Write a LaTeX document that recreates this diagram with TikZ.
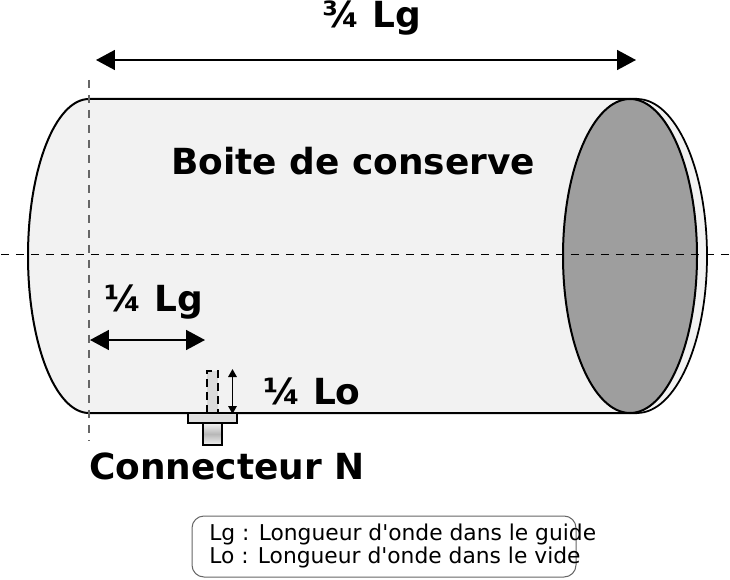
\documentclass[tikz,border=0pt]{standalone}
\usepackage{fontspec}
\setmainfont{DejaVu Sans}
\usetikzlibrary{arrows.meta,shadings}
\definecolor{boite}{HTML}{F2F2F2}
\definecolor{fond}{HTML}{9E9E9E}
\tikzset{
	cote/.style={{Triangle[length=.38cm,width=.4cm]}-{Triangle[length=.38cm,width=.4cm]},line width=.035cm},
	titre/.style={inner sep=0pt,font=\bfseries\fontsize{20.45pt}{24pt}\selectfont},
	axe/.style={dash pattern=on .16cm off .14cm,line width=.02cm}
}
\begin{document}
\begin{tikzpicture}[x=.02cm,y=.02cm]
	\useasboundingbox (0,0) rectangle (730,579);
	% boite
	\draw[fill=boite,line width=.035cm] (637,323) ellipse (70 and 157);
	\fill[boite] (89,166) arc[start angle=270,end angle=90,x radius=61,y radius=157] -- (637,480) -- (637,166) -- cycle;
	\draw[line width=.04cm] (637,166) -- (89,166) arc[start angle=270,end angle=90,x radius=61,y radius=157] -- (637,480);
	\draw[fill=fond,line width=.04cm] (630,323) ellipse (67 and 157);
	% axes
	\coordinate (axeg) at (1,325);
	\coordinate (axed) at (730,325);
	\coordinate (axeh) at (89,499);
	\coordinate (axeb) at (89,139);
	\draw[axe] (axeg) -- (axed);
	\draw[axe,black!60,line width=.03cm] (axeh) -- (axeb);
	% connecteur
	\fill[black!14] (207,166) rectangle (218,208);
	\draw[line width=.04cm,dash pattern=on .16cm off .1cm] (207,166) -- (207,208) -- (218,208) -- (218,166);
	\draw[fill=black!12,line width=.035cm] (188,156) rectangle (237,166);
	\draw[top color=black!5,bottom color=black!5,middle color=black!28,line width=.035cm] (203,134) rectangle (222,156);
	% cotes
	\coordinate (qa) at (96,519);
	\coordinate (qb) at (636,519);
	\coordinate (qc) at (90,239);
	\coordinate (qd) at (205,239);
	\coordinate (qe) at (232.5,210);
	\coordinate (qf) at (232.5,165);
	\draw[cote] (qa) -- (qb);
	\draw[cote] (qc) -- (qd);
	\draw[{Triangle[length=.16cm,width=.17cm]}-{Triangle[length=.16cm,width=.17cm]},line width=.03cm] (qe) -- (qf);
	% textes
	\node[titre,anchor=base] (troisquarts) at (372,551) {¾ Lg};
	\node[titre,anchor=base] (nom) at (353,404) {Boite de conserve};
	\node[titre,anchor=base] (quartg) at (154,268) {¼ Lg};
	\node[titre,anchor=base] (quarto) at (312,175) {¼ Lo};
	\node[titre,anchor=base] (connecteur) at (227,100) {Connecteur N};
	% legende
	\draw[black!60,line width=.02cm,rounded corners=.24cm] (192,2) rectangle (576,63);
	\node[anchor=base west,inner sep=0pt,font=\fontsize{12.4pt}{12.6pt}\selectfont,align=left] (legende) at (209,16) {Lg : Longueur d\textquotesingle onde dans le guide\\Lo : Longueur d\textquotesingle onde dans le vide};
\end{tikzpicture}
\end{document}
